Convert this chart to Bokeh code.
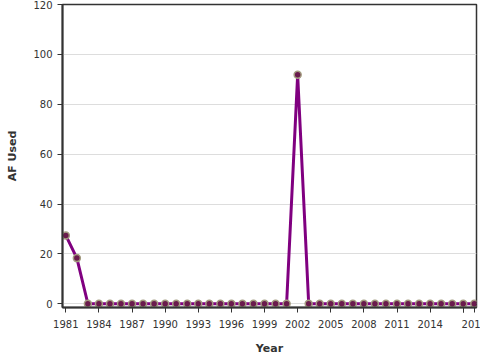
from bokeh.plotting import figure
from bokeh.models import FixedTicker, Range1d
from bokeh.embed import file_html
from bokeh.resources import INLINE

years = list(range(1981, 2019))
af_used = [27.4, 18.3] + [0] * 19 + [91.8] + [0] * 16
x_ticks = list(range(1981, 2018, 3)) + [2018]
y_ticks = [0, 20, 40, 60, 80, 100, 120]

p = figure(width=480, height=360, output_backend="svg", toolbar_location=None,
           x_range=Range1d(1980.7, 2018.2), y_range=Range1d(-1.5, 120),
           min_border_left=62, min_border_right=4, min_border_top=4, min_border_bottom=53)

p.line(years, af_used, line_color="#800080", line_width=3)
p.scatter(years, af_used, size=7, fill_color="#6a1b4d", line_color="#a39c80", line_width=1.5)

p.xaxis.ticker = FixedTicker(ticks=x_ticks + [2017])
p.xaxis.major_label_overrides = {2017: ""}
p.yaxis.ticker = FixedTicker(ticks=y_ticks)
p.xaxis.axis_label = "Year"
p.yaxis.axis_label = "AF Used"

for ax in (p.xaxis, p.yaxis):
    ax.axis_line_color = "#333333"
    ax.axis_line_width = 2
    ax.major_tick_line_color = "#333333"
    ax.major_tick_line_width = 1
    ax.major_tick_in = 0
    ax.major_tick_out = 5
    ax.minor_tick_line_color = None
    ax.major_label_text_font = "DejaVu Sans"
    ax.major_label_text_font_size = "10px"
    ax.major_label_text_color = "#333333"
    ax.axis_label_text_font = "DejaVu Sans"
    ax.axis_label_text_font_size = "11px"
    ax.axis_label_text_font_style = "bold"
    ax.axis_label_text_color = "#333333"

p.xaxis.major_label_standoff = 7
p.xaxis.axis_label_standoff = 11
p.yaxis.axis_label_standoff = 11

p.xgrid.grid_line_color = None
p.ygrid.grid_line_color = "#dddddd"
p.ygrid.ticker = FixedTicker(ticks=y_ticks)
p.outline_line_color = "#333333"
p.outline_line_width = 1.5
p.background_fill_color = "white"
p.border_fill_color = "white"

open("out.html", "w").write(file_html(p, INLINE))
